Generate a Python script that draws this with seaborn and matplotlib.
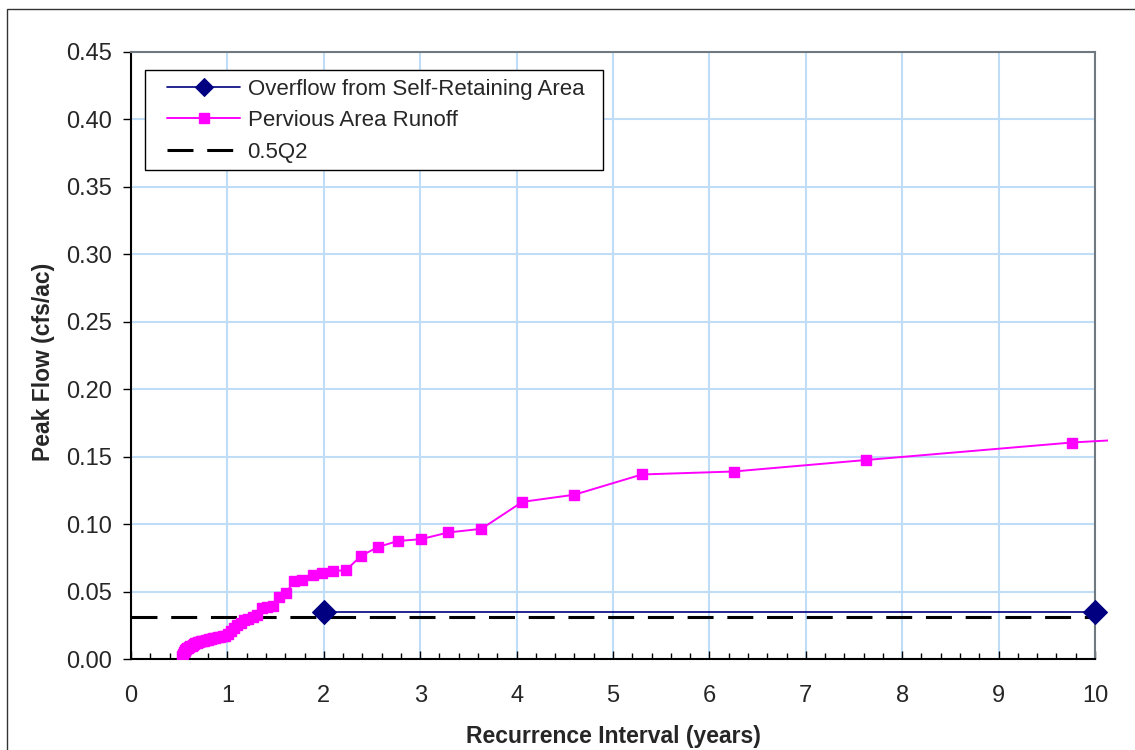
import numpy as np
import pandas as pd
import seaborn as sns
import matplotlib
matplotlib.use("Agg")
import matplotlib.pyplot as plt
from matplotlib.patches import Rectangle
from matplotlib.ticker import MultipleLocator, FormatStrFormatter

# recurrence interval (years) and peak flow (cfs/ac)
runoff_years = [0.530, 0.536, 0.545, 0.555, 0.564, 0.574, 0.584, 0.595, 0.606, 0.617,
                0.629, 0.641, 0.654, 0.667, 0.681, 0.695, 0.710, 0.725, 0.741, 0.758,
                0.776, 0.794, 0.813, 0.833, 0.854, 0.876, 0.900, 0.924, 0.950, 0.977,
                1.006, 1.036, 1.068, 1.102, 1.138, 1.177, 1.218, 1.262, 1.309, 1.360,
                1.415, 1.476, 1.540, 1.611, 1.690, 1.777, 1.887, 1.979, 2.098, 2.233,
                2.387, 2.563, 2.767, 3.006, 3.290, 3.635, 4.060, 4.600, 5.300, 6.250,
                7.620, 9.760, 13.40]
runoff_flow = [0.002, 0.004, 0.005, 0.006, 0.007, 0.0075, 0.008, 0.0085, 0.009, 0.0095,
               0.010, 0.0105, 0.011, 0.0115, 0.012, 0.0123, 0.0127, 0.013, 0.0133, 0.0137,
               0.014, 0.0143, 0.0147, 0.015, 0.0153, 0.0157, 0.016, 0.0163, 0.0167, 0.017,
               0.0185, 0.021, 0.023, 0.025, 0.027, 0.029, 0.030, 0.031, 0.0325, 0.038,
               0.0385, 0.039, 0.046, 0.049, 0.058, 0.0585, 0.062, 0.0635, 0.065, 0.066,
               0.0765, 0.083, 0.0875, 0.0888, 0.0938, 0.0965, 0.1165, 0.1218, 0.1368, 0.139,
               0.1475, 0.1605, 0.175]

overflow_years = [2, 10]
overflow_flow = [0.035, 0.035]

half_q2_years = [0, 10]
half_q2_flow = [0.031, 0.031]

df_runoff = pd.DataFrame({"years": runoff_years, "flow": runoff_flow})
df_over = pd.DataFrame({"years": overflow_years, "flow": overflow_flow})
df_q2 = pd.DataFrame({"years": half_q2_years, "flow": half_q2_flow})

sns.set_style("white")
plt.rcParams["font.family"] = ["Liberation Sans", "DejaVu Sans"]

fig = plt.figure(figsize=(11.35, 7.5), dpi=100)
ax = fig.add_axes([131 / 1135, 1 - 659 / 750, 964 / 1135, 607 / 750])

sns.lineplot(data=df_q2, x="years", y="flow", ax=ax, color="black", lw=2.2,
             estimator=None, sort=False, zorder=2, label="0.5Q2")
q2_line = ax.lines[-1]
q2_line.set_dashes([8.5, 4.5])

sns.lineplot(data=df_runoff, x="years", y="flow", ax=ax, color="#FF00FF", lw=1.4,
             marker="s", markersize=6.8, markeredgecolor="#FF00FF", markeredgewidth=1,
             estimator=None, sort=False, zorder=3, label="Pervious Area Runoff")
runoff_line = ax.lines[-1]
runoff_line.set_clip_path(Rectangle((0, 0), 1.0135, 1, transform=ax.transAxes))

sns.lineplot(data=df_over, x="years", y="flow", ax=ax, color="#000080", lw=1.2,
             marker="D", markersize=12.5, markeredgecolor="#000080",
             estimator=None, sort=False, zorder=4, label="Overflow from Self-Retaining Area")
over_line = ax.lines[-1]
over_line.set_clip_on(False)

ax.set_xlim(0, 10)
ax.set_ylim(0, 0.45)
ax.xaxis.set_major_locator(MultipleLocator(1))
ax.xaxis.set_minor_locator(MultipleLocator(0.2))
ax.yaxis.set_major_locator(MultipleLocator(0.05))
ax.yaxis.set_major_formatter(FormatStrFormatter("%.2f"))

ax.grid(True, which="major", color="#BFDDF7", lw=1.5)
ax.set_axisbelow(True)

ax.tick_params(axis="y", which="major", direction="out", length=6, width=1,
               color="black", labelsize=17, pad=8, left=True)
ax.tick_params(axis="x", which="major", direction="in", length=6, width=1,
               color="black", labelsize=17, pad=19, bottom=True)
ax.tick_params(axis="x", which="minor", direction="in", length=4, width=1,
               color="black", bottom=True)

for side in ["left", "bottom"]:
    ax.spines[side].set_color("black")
    ax.spines[side].set_linewidth(1.5)
for side in ["top", "right"]:
    ax.spines[side].set_color("#707880")
    ax.spines[side].set_linewidth(1.5)

ax.set_xlabel("Recurrence Interval (years)", fontsize=16.5, fontweight="bold")
ax.set_ylabel("Peak Flow (cfs/ac)", fontsize=16.5, fontweight="bold")
ax.xaxis.set_label_coords(0.5, -0.108)
ax.yaxis.set_label_coords(-0.079, 0.49)

handles = [over_line, runoff_line, q2_line]
labels = ["Overflow from Self-Retaining Area", "Pervious Area Runoff", "0.5Q2"]
leg = ax.legend(handles, labels, loc="upper left", bbox_to_anchor=(0.0373, 0.956),
                borderaxespad=0, borderpad=0, fontsize=16, frameon=False,
                handlelength=3.3, handletextpad=0.33, labelspacing=0.47)
for h in leg.legend_handles:
    if h.get_marker() == "D":
        h.set_markersize(9)

# legend frame drawn separately so its padding matches the original
ax.add_patch(Rectangle((0.0145, 0.8056), 0.4751, 0.1647, transform=ax.transAxes,
                       fill=True, facecolor="white", edgecolor="black", lw=1,
                       zorder=4.9, clip_on=False))
leg.set_zorder(5)

# outer chart border
fig.patches.append(Rectangle((7 / 1135, -0.05), 1.2, 1 - 9 / 750 + 0.05,
                             transform=fig.transFigure, fill=False,
                             edgecolor="#333333", lw=1))

plt.savefig("out.png", dpi=100)
